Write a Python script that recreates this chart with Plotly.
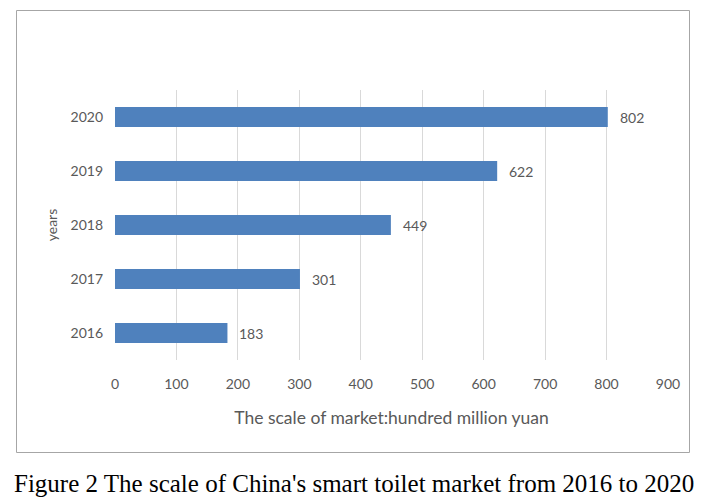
import plotly.graph_objects as go

years = ["2016", "2017", "2018", "2019", "2020"]
values = [183, 301, 449, 622, 802]
x_ticks = [0, 100, 200, 300, 400, 500, 600, 700, 800, 900]

# the page body adds an 8px offset; figure coords = screen coords - 8
OFF = 8
W, H = 709 - OFF, 503 - OFF
L, R, T, B = 115 - OFF, 709 - 668, 90 - OFF, 503 - 360
pw, ph = W - L - R, H - T - B

def px_x(p):
    return (p - OFF - L) / pw

def px_y(p):
    return (H - B - (p - OFF)) / ph

grey = "#595959"
font = "Lato, 'Open Sans', sans-serif"

fig = go.Figure()
fig.add_trace(go.Bar(
    y=years, x=values, orientation="h",
    marker=dict(color="#4F81BD", line=dict(width=0)),
    hoverinfo="x+y",
))

annotations = []
for i, xv in enumerate(values):
    annotations.append(dict(
        x=xv, y=i, xref="x", yref="y", text=str(xv), showarrow=False,
        xanchor="left", yanchor="middle", xshift=10,
        font=dict(family=font, size=14, color=grey),
    ))

annotations.append(dict(
    x=px_x(354), y=px_y(483), xref="paper", yref="paper",
    text="Figure 2 The scale of China's smart toilet market from 2016 to 2020",
    showarrow=False, xanchor="center", yanchor="middle",
    font=dict(family="'Liberation Serif', 'Times New Roman', serif", size=25, color="#000000"),
))

fig.update_layout(
    width=W, height=H,
    margin=dict(l=L, r=R, t=T, b=B, pad=0, autoexpand=False),
    paper_bgcolor="white", plot_bgcolor="white",
    bargap=0.63,
    showlegend=False,
    annotations=annotations,
    shapes=[dict(
        type="rect", xref="paper", yref="paper",
        x0=px_x(16.5), x1=px_x(689.5), y0=px_y(452.5), y1=px_y(10.5),
        line=dict(color="#A6A6A6", width=1), fillcolor="rgba(0,0,0,0)", layer="below",
    )],
    xaxis=dict(
        type="linear", automargin=False,
        range=[0, 900], tickvals=x_ticks, ticktext=[str(v) for v in x_ticks],
        showgrid=True, gridcolor="#D9D9D9", gridwidth=1,
        zeroline=False, showline=False, ticks="",
        tickfont=dict(family=font, size=14, color=grey),
        ticklabelstandoff=14,
        title=dict(text="The scale of market:hundred million yuan",
                   font=dict(family=font, size=17.5, color=grey), standoff=20),
    ),
    yaxis=dict(
        type="category", automargin=False,
        categoryorder="array", categoryarray=years,
        range=[-0.5, 4.5],
        showgrid=False, zeroline=False, showline=False, ticks="",
        tickfont=dict(family=font, size=14, color=grey),
        ticklabelstandoff=11,
        title=dict(text="years", font=dict(family=font, size=14, color=grey), standoff=9),
    ),
)

fig.write_html("out.html")
